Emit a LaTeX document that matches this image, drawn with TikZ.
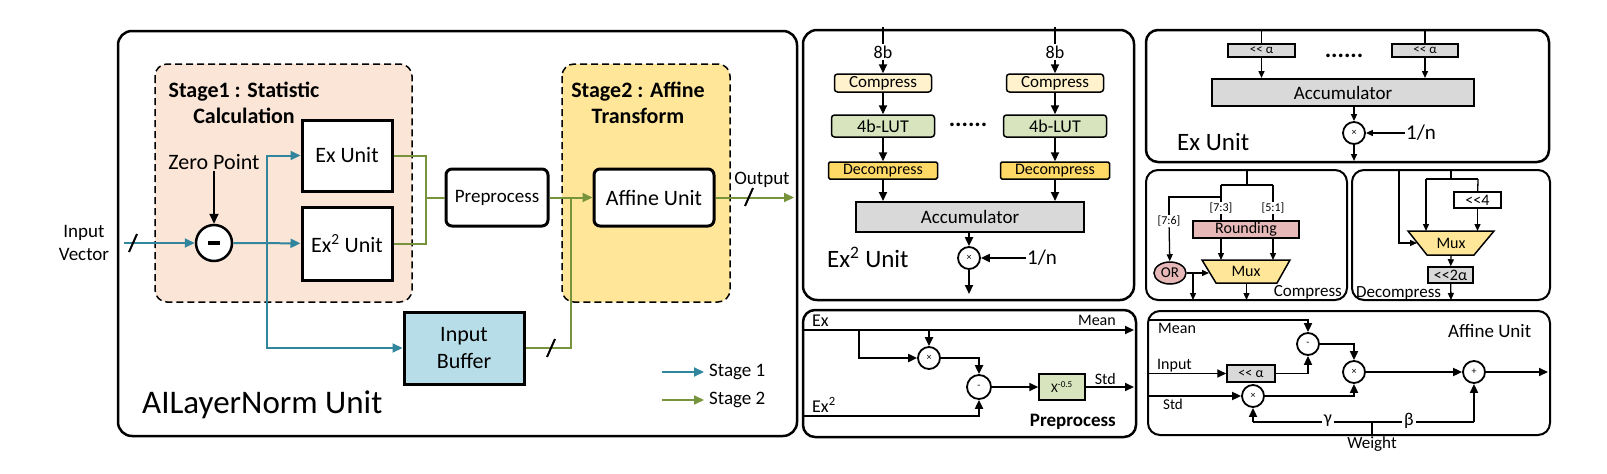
\documentclass[tikz,border=0pt]{standalone}
\usepackage{fontspec}
\setmainfont{Carlito}
\usetikzlibrary{arrows.meta,shapes.geometric}
\definecolor{tealline}{HTML}{31859C}
\definecolor{grnline}{HTML}{77933C}
\definecolor{peach}{HTML}{FBE5D6}
\definecolor{gold}{HTML}{FFE699}
\definecolor{bufblue}{HTML}{B7DEE8}
\definecolor{cmpyel}{HTML}{FFF2CC}
\definecolor{lutgrn}{HTML}{D7E4BD}
\definecolor{dcpyel}{HTML}{FFD966}
\definecolor{accgry}{HTML}{D9D9D9}
\definecolor{rndpnk}{HTML}{E6B9B8}
\tikzset{
  panel/.style={draw, line width=2.5pt, rounded corners=14pt},
  stagebox/.style={draw, dash pattern=on 7pt off 4pt, line width=1.5pt, rounded corners=12pt},
  unitbox/.style={draw, line width=3pt, fill=white, inner sep=0pt, font=\fontsize{22}{26}\selectfont},
  pbox/.style={unitbox, rounded corners=6pt, minimum height=57},
  arr/.style={-{Triangle[length=10pt,width=9pt]}},
  arrb/.style={-{Triangle[length=9pt,width=8pt]}},
  arrc/.style={-{Triangle[length=7pt,width=6pt]}},
  tl/.style={tealline, line width=2pt},
  gl/.style={grnline, line width=2pt},
  slash/.style={line width=2pt},
  opc/.style={draw, circle, line width=1.8pt, fill=white, minimum size=22, inner sep=0pt, font=\fontsize{10}{10}\selectfont},
  smallbox/.style={draw, line width=1.5pt, inner sep=0pt, rounded corners=3pt, font=\fontsize{17}{18}\selectfont},
  accbox/.style={draw, line width=2pt, fill=accgry, inner sep=0pt, font=\fontsize{19}{22}\selectfont},
  shb/.style={draw, line width=1.5pt, fill=accgry, inner sep=0pt, font=\fontsize{13}{14}\selectfont},
  muxfill/.style={draw, line width=1.5pt, fill=gold},
  bits/.style={fill=white, inner sep=1pt, font=\fontsize{12}{13}\selectfont},
  lbl/.style={inner sep=1pt, font=\fontsize{19}{23}\selectfont},
  ttlbl/.style={align=center, font=\fontsize{22}{26}\selectfont\bfseries}
}
\begin{document}
\begin{tikzpicture}[x=1pt, y=-1pt]
\useasboundingbox (0,0) rectangle (1607,474);
% AILayerNorm unit
\draw[panel] (118,31) rectangle (797,436);
\draw[stagebox, fill=peach] (155,64) rectangle (412,302);
\draw[stagebox, fill=gold] (562,64) rectangle (730,302);
\node[ttlbl] (st1) at (244,103) {Stage1 : Statistic\\Calculation};
\node[ttlbl] (st2) at (638,103) {Stage2 : Affine\\Transform};
\node[unitbox, minimum width=90, minimum height=71] (exu) at (347,155.5) {Ex Unit};
\node[unitbox, minimum width=90, minimum height=73] (ex2u) at (347,243.5) {Ex\textsuperscript{2} Unit};
\node[unitbox, fill=bufblue, minimum width=120, minimum height=72, align=center, font=\fontsize{22}{27}\selectfont] (ibuf) at (464,348) {Input\\Buffer};
\node[pbox, minimum width=102, font=\fontsize{19}{22}\selectfont] (prep) at (497,197.5) {Preprocess};
\node[pbox, minimum width=120, font=\fontsize{22}{25}\selectfont] (aff) at (654,197.5) {Affine Unit};
\node[draw, circle, line width=2.5pt, fill=white, minimum size=36, inner sep=0pt] (sub) at (214,243) {};
\draw[line width=4pt] ([xshift=-6]sub.center) -- ([xshift=6]sub.center);
\node[lbl, font=\fontsize{22}{26}\selectfont] (zp) at (214,162) {Zero Point};
\node[lbl, align=center] (iv) at (84,243) {Input\\Vector};
\coordinate (in0) at (124,243);
\coordinate (br) at (267,243);
\draw[tl, arr] (in0) -- (sub);
\draw[slash] (129,252) -- (137,234);
\draw[arr, line width=2pt] (zp) -- (sub);
\draw[tl, arr] (sub) -- (ex2u);
\draw[tl, arr] (br) |- (exu.west);
\draw[tl, arr] (br) |- (ibuf.west);
\coordinate (gj) at (426,197.5);
\coordinate (bj) at (571,197.5);
\coordinate (out) at (794,197.5);
\draw[gl] (exu.east) -| (gj) |- (ex2u.east);
\draw[gl] (gj) -- (prep);
\draw[gl, arr] (prep) -- (aff);
\draw[gl] (ibuf.east) -| (bj);
\draw[slash] (547,357) -- (555,339);
\draw[gl, arr] (aff) -- (out);
\draw[slash] (745,206) -- (753,188);
\node[lbl] (outl) at (762,180) {Output};
\coordinate (l1a) at (662,372);
\coordinate (l1b) at (704,372);
\coordinate (l2a) at (662,400);
\coordinate (l2b) at (704,400);
\draw[tl, arr] (l1a) -- (l1b);
\draw[gl, arr] (l2a) -- (l2b);
\node[lbl, anchor=west] (lg1) at (708,372) {Stage 1};
\node[lbl, anchor=west] (lg2) at (708,400) {Stage 2};
\node[anchor=west, inner sep=0pt, font=\fontsize{33}{38}\selectfont] (ttl) at (142,405) {AILayerNorm Unit};
% Ex^2 unit
\draw[panel] (803,30) rectangle (1134,300);
\node[inner sep=1pt, font=\fontsize{18}{20}\selectfont] (ba) at (883,52) {8b};
\node[inner sep=1pt, font=\fontsize{18}{20}\selectfont] (bb) at (1055,52) {8b};
\node[smallbox, fill=cmpyel, minimum width=97, minimum height=18] (cpa) at (883,83) {Compress};
\node[smallbox, fill=cmpyel, minimum width=97, minimum height=18] (cpb) at (1055,83) {Compress};
\node[smallbox, fill=lutgrn, minimum width=103, minimum height=22, font=\fontsize{18}{19}\selectfont] (lua) at (883,126) {4b-LUT};
\node[smallbox, fill=lutgrn, minimum width=103, minimum height=22, font=\fontsize{18}{19}\selectfont] (lub) at (1055,126) {4b-LUT};
\node[smallbox, fill=dcpyel, rounded corners=1.5pt, minimum width=109, minimum height=17, font=\fontsize{16}{17}\selectfont] (dca) at (883,170.5) {Decompress};
\node[smallbox, fill=dcpyel, rounded corners=1.5pt, minimum width=109, minimum height=17, font=\fontsize{16}{17}\selectfont] (dcb) at (1055,170.5) {Decompress};
\node[font=\fontsize{24}{24}\selectfont\bfseries] (dta) at (968,125) {......};
\node[accbox, minimum width=228, minimum height=30] (acc) at (970,217) {Accumulator};
\node[opc] (mul) at (969,258) {×};
\node[inner sep=1pt, font=\fontsize{21}{23}\selectfont] (inv) at (1042,258) {1/n};
\coordinate (ta) at (883,27);
\coordinate (tb) at (1055,27);
\coordinate (mo) at (969,294);
\draw[line width=2pt] (ta) -- (ba);
\draw[line width=2pt] (tb) -- (bb);
\draw[line width=2pt, arrb] (ba) -- (cpa);
\draw[line width=2pt, arrb] (bb) -- (cpb);
\draw[line width=2pt, arrb] (cpa) -- (lua);
\draw[line width=2pt, arrb] (cpb) -- (lub);
\draw[line width=2pt, arrb] (lua) -- (dca);
\draw[line width=2pt, arrb] (lub) -- (dcb);
\draw[line width=2pt, arrb] (dca) -- (dca |- acc.north);
\draw[line width=2pt, arrb] (dcb) -- (dcb |- acc.north);
\draw[line width=2pt, arrb] (acc.south -| mul) -- (mul);
\draw[line width=2pt, arrb] (inv) -- (mul);
\draw[line width=2pt, arrb] (mul) -- (mo);
\node[anchor=west, inner sep=0pt, font=\fontsize{25}{29}\selectfont] (ex2t) at (827,257) {Ex\textsuperscript{2} Unit};
% Preprocess
\draw[panel, rounded corners=12pt] (803,310) rectangle (1136,437);
\coordinate (pex) at (803,330);
\coordinate (pmean) at (1134,330);
\coordinate (pb) at (859,330);
\coordinate (pex2) at (803,416);
\coordinate (pstd) at (1134,387);
\node[opc] (pmul) at (929,358) {×};
\node[opc, minimum size=24] (psub) at (979,387) {-};
\node[draw, line width=1.5pt, fill=lutgrn, minimum width=46, minimum height=26, inner sep=0pt, font=\fontsize{13}{14}\selectfont] (px) at (1062,387) {X\textsuperscript{-0.5}};
\draw[line width=2pt, arrb] (pex) -- (pmean);
\draw[line width=2pt, arrb] (pb) |- (pmul);
\draw[line width=2pt, arrb] (pmul |- pex) -- (pmul);
\draw[line width=2pt, arrb] (pmul) -| (psub);
\draw[line width=2pt, arrb] (pex2) -| (psub);
\draw[line width=2pt, arrb] (psub) -- (px);
\draw[line width=2pt, arrb] (px) -- (pstd);
\node[anchor=base west, inner sep=0pt, font=\fontsize{18}{20}\selectfont] (pexl) at (812,326) {Ex};
\node[anchor=base west, inner sep=0pt, font=\fontsize{18}{20}\selectfont] (pex2l) at (812,412) {Ex\textsuperscript{2}};
\node[anchor=base east, inner sep=0pt, font=\fontsize{16}{18}\selectfont] (pmeanl) at (1116,325) {Mean};
\node[anchor=base east, inner sep=0pt, font=\fontsize{16}{18}\selectfont] (pstdl) at (1116,384) {Std};
\node[anchor=base east, inner sep=0pt, font=\fontsize{19}{22}\selectfont\bfseries] (prepl) at (1116,426) {Preprocess};
% Ex unit
\draw[panel, rounded corners=12pt] (1146,30) rectangle (1549,162);
\node[shb, minimum width=67, minimum height=13] (sha) at (1261.5,50.5) {{<}{<} α};
\node[shb, minimum width=66, minimum height=13] (shb) at (1425,50.5) {{<}{<} α};
\node[font=\fontsize{24}{24}\selectfont\bfseries] (dtb) at (1344,56) {......};
\node[accbox, minimum width=262, minimum height=27] (acc2) at (1343,92.5) {Accumulator};
\node[opc] (mul2) at (1354,133) {×};
\node[inner sep=1pt, font=\fontsize{21}{23}\selectfont] (inv2) at (1421,133) {1/n};
\coordinate (tc) at (1261.5,30);
\coordinate (td) at (1425,30);
\coordinate (mo2) at (1354,161);
\draw[line width=1.5pt] (tc) -- (sha);
\draw[line width=1.5pt] (td) -- (shb);
\draw[line width=1.5pt, arrc] (sha) -- (sha |- acc2.north);
\draw[line width=1.5pt, arrc] (shb) -- (shb |- acc2.north);
\draw[line width=1.5pt, arrc] (mul2 |- acc2.south) -- (mul2);
\draw[line width=1.5pt, arrc] (inv2) -- (mul2);
\draw[line width=1.5pt, arrc] (mul2) -- (mo2);
\node[anchor=west, inner sep=0pt, font=\fontsize{25}{29}\selectfont] (exut) at (1177,142) {Ex Unit};
% Compress
\draw[panel, line width=2pt, rounded corners=12pt] (1146,170) rectangle (1347,300);
\node[draw, line width=1.5pt, fill=rndpnk, minimum width=106, minimum height=17, inner sep=0pt, font=\fontsize{16}{17}\selectfont] (rnd) at (1246,229.5) {Rounding};
\draw[muxfill] (1202,260) -- (1290,260) -- (1277,283) -- (1216,283) -- cycle;
\node[inner sep=0pt, font=\fontsize{16}{17}\selectfont] (mux1) at (1246,271.5) {Mux};
\node[draw, ellipse, line width=1.5pt, fill=rndpnk, minimum width=32, minimum height=22, inner sep=0pt, font=\fontsize{15}{16}\selectfont] (orn) at (1170,273) {OR};
\node[bits] (b76) at (1169,221) {[7:6]};
\node[bits] (b73) at (1221,208) {[7:3]};
\node[bits] (b51) at (1273,208) {[5:1]};
\coordinate (c0) at (1247,170);
\coordinate (c1) at (1247,185);
\coordinate (c2) at (1221,185);
\coordinate (c3) at (1273,185);
\coordinate (c4) at (1221,197);
\coordinate (m1top) at (1246,260);
\coordinate (m1bot) at (1246.5,283);
\coordinate (m1in) at (1209,273);
\coordinate (oj) at (1193,273);
\coordinate (cbot) at (1246,300);
\draw[line width=1.3pt] (c0) -- (c1);
\draw[line width=1.3pt] (c2) -- (c3);
\draw[line width=1.3pt] (c2) -- (b73);
\draw[line width=1.3pt] (b73) -- (b73 |- rnd.north);
\draw[line width=1.3pt] (c3) -- (b51);
\draw[line width=1.3pt] (b51) -- (b51 |- rnd.north);
\draw[line width=1.3pt] (c4) -| (b76);
\draw[line width=1.3pt, arrc] (b76) -- (orn);
\draw[line width=1.3pt, arrc] (rnd.south -| b73) -- (b73 |- m1top);
\draw[line width=1.3pt, arrc] (rnd.south -| b51) -- (b51 |- m1top);
\draw[line width=1.3pt] (orn) -- (oj);
\draw[line width=1.3pt, arrc] (oj) -- (m1in);
\draw[line width=1.3pt, arrc] (oj) -- (oj |- cbot);
\draw[line width=1.3pt, arrc] (m1bot) -- (m1bot |- cbot);
\node[anchor=base east, inner sep=0pt, font=\fontsize{17}{19}\selectfont] (cmpl) at (1342,296) {Compress};
% Decompress
\draw[panel, line width=2pt, rounded corners=12pt] (1352,170) rectangle (1550,300);
\node[draw, line width=1.5pt, fill=white, minimum width=47, minimum height=16, inner sep=0pt, font=\fontsize{16}{17}\selectfont] (s4) at (1477.5,200) {{<}{<}4};
\draw[muxfill] (1408,231) -- (1494,231) -- (1474,255) -- (1427,255) -- cycle;
\node[inner sep=0pt, font=\fontsize{16}{17}\selectfont] (mux2) at (1451,243) {Mux};
\node[shb, minimum width=45, minimum height=16, font=\fontsize{16}{17}\selectfont] (s2a) at (1450.5,275) {{<}{<}2α};
\coordinate (d0) at (1451,170);
\coordinate (d1) at (1451,179);
\coordinate (d2) at (1426,179);
\coordinate (d3) at (1478,179);
\coordinate (d4) at (1399,170);
\coordinate (m2top) at (1451,231);
\coordinate (m2bot) at (1451,255);
\coordinate (m2in) at (1417,243);
\coordinate (dbot) at (1451,300);
\draw[line width=1.3pt] (d0) -- (d1);
\draw[line width=1.3pt] (d2) -- (d3);
\draw[line width=1.3pt, arrc] (d2) -- (d2 |- m2top);
\draw[line width=1.3pt] (d3) -- (s4);
\draw[line width=1.3pt, arrc] (s4) -- (s4 |- m2top);
\draw[line width=1.3pt, arrc] (d4) |- (m2in);
\draw[line width=1.3pt, arrc] (m2bot) -- (s2a);
\draw[line width=1.3pt, arrc] (s2a) -- (dbot);
\node[anchor=base west, inner sep=0pt, font=\fontsize{17}{19}\selectfont] (dcpl) at (1356,297) {Decompress};
% Affine unit
\draw[panel, line width=2pt, rounded corners=12pt] (1148,311) rectangle (1550,435);
\node[opc] (asub) at (1308,344) {-};
\node[opc] (amul) at (1354,372) {×};
\node[opc] (smul) at (1253,396) {×};
\node[opc] (aadd) at (1474,372) {+};
\node[shb, minimum width=48, minimum height=17, font=\fontsize{14}{15}\selectfont] (ash) at (1251,373.5) {{<}{<} α};
\coordinate (amean) at (1148,320);
\coordinate (ainp) at (1148,373.5);
\coordinate (astd) at (1148,396);
\coordinate (aout) at (1548,372);
\coordinate (wj) at (1372,422);
\coordinate (wl) at (1253,422);
\coordinate (wr) at (1474,422);
\draw[line width=1.8pt, arrb] (amean) -| (asub);
\draw[line width=1.8pt, arrb] (ainp) -- (ash);
\draw[line width=1.8pt, arrb] (ash) -| (asub);
\draw[line width=1.8pt, arrb] (asub) -| (amul);
\draw[line width=1.8pt, arrb] (astd) -- (smul);
\draw[line width=1.8pt, arrb] (smul) -| (amul);
\draw[line width=1.8pt, arrb] (amul) -- (aadd);
\draw[line width=1.8pt, arrb] (aadd) -- (aout);
\draw[line width=1.8pt] (wl) -- (wr);
\draw[line width=1.8pt, arrb] (wl) -- (smul);
\draw[line width=1.8pt, arrb] (wr) -- (aadd);
\node[fill=white, inner sep=2pt, font=\fontsize{18}{20}\selectfont] (gam) at (1328,421) {γ};
\node[fill=white, inner sep=2pt, font=\fontsize{18}{20}\selectfont] (bet) at (1409,421) {β};
\node[inner sep=1pt, font=\fontsize{17}{19}\selectfont] (wt) at (1372,444) {Weight};
\draw[line width=1.8pt] (wj) -- (wt);
\node[anchor=base west, inner sep=0pt, font=\fontsize{16}{18}\selectfont] (ameanl) at (1158,333) {Mean};
\node[anchor=base west, inner sep=0pt, font=\fontsize{16}{18}\selectfont] (ainpl) at (1157,369) {Input};
\node[anchor=base west, inner sep=0pt, font=\fontsize{15}{17}\selectfont] (astdl) at (1163,409) {Std};
\node[anchor=base west, inner sep=0pt, font=\fontsize{19}{21}\selectfont] (afft) at (1448,337) {Affine Unit};
\end{tikzpicture}
\end{document}
